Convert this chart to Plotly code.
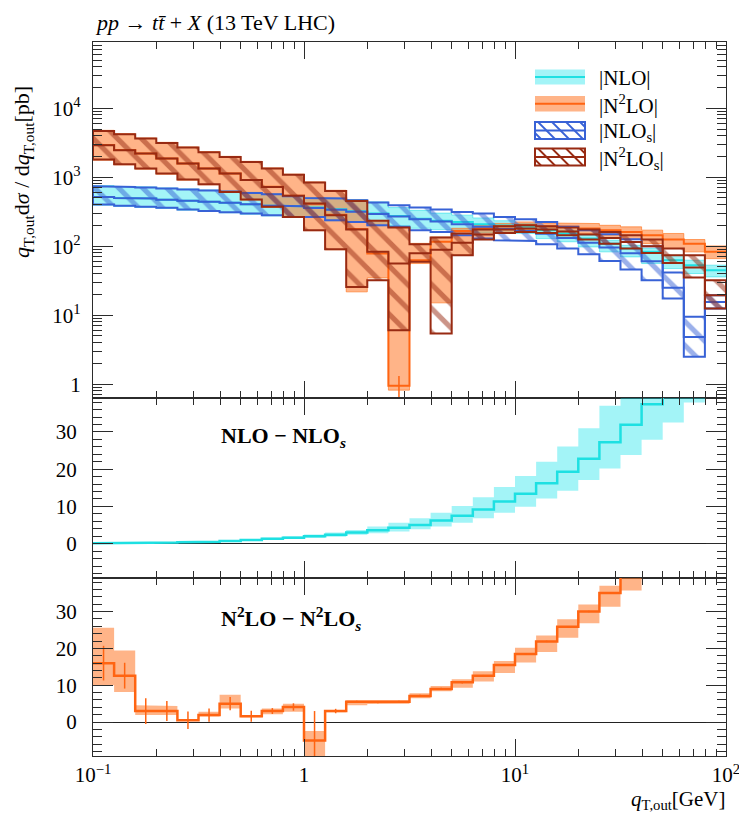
import numpy as np
import plotly.graph_objects as go
from plotly.subplots import make_subplots

# ---------------- data ----------------
edges = [0.1, 0.1259, 0.1585, 0.1995, 0.2512, 0.3162, 0.3981, 0.5012, 0.631, 0.7943,
         1.0, 1.259, 1.585, 1.995, 2.512, 3.162, 3.981, 5.012, 6.31, 7.943,
         10.0, 12.59, 15.85, 19.95, 25.12, 31.62, 39.81, 50.12, 63.1, 79.43, 100.0]

# |NLO| (pb)
nlo_c = [519, 501, 490, 473, 457, 442, 427, 407, 389, 380, 363, 343, 320, 299, 275,
         251, 234, 224, 209, 200, 191, 171, 153, 129, 109, 92.5, 82.8, 62.7, 53.1, 44.9]
nlo_hi = [756, 737, 722, 700, 677, 654, 633, 605, 579, 542, 511, 501, 474, 439, 363,
          331, 302, 282, 257, 234, 213, 191, 171, 144, 122, 103, 92.5, 74.1, 62.7, 53.1]
nlo_lo = [394, 377, 365, 353, 333, 319, 305, 291, 275, 261, 261, 233, 221, 197, 200,
          182, 174, 166, 158, 155, 153, 129, 116, 97.7, 82.8, 70.0, 56.1, 47.4, 40.2, 35.9]

# |N2LO| (pb)
n2lo_c = [2927, 2473, 2206, 1869, 1579, 1339, 1135, 914, 727, 541, 412, 285, 178, 78.3, 0.95,
          62.7, 116, 166, 182, 195, 201, 195, 191, 180, 171, 161, 144, 125, 109, 82.8]
n2lo_hi = [4782, 4282, 3704, 3204, 2746, 2347, 2007, 1700, 1364, 1108, 854, 647, 465, 237, 191,
           110, 136, 182, 200, 214, 225, 218, 218, 213, 201, 191, 171, 153, 125, 101]
n2lo_lo = [1767, 1511, 1310, 1107, 907, 776, 600, 466, 365, 261, 168, 88.8, 21.8, 34.7, 0.82,
           56.1, 15.1, 74.1, 126, 155, 174, 171, 161, 153, 140, 125, 109, 92.5, 82.8, 66.1]
n2lo_err = [0, 0, 0, 0, 0, 0, 0, 0, 0, 0, 0, 0, 0, 0, 0.37,
            0, 0, 0, 0, 0, 0, 0, 0, 0, 0, 0, 0, 0, 0, 0]

# |NLO_s| (pb)
nlos_c = [519, 501, 490, 473, 457, 442, 427, 407, 389, 380, 359, 339, 316, 292, 269,
          245, 229, 209, 191, 178, 166, 151, 132, 112, 95.5, 79.4, 60.3, 25.1, 4.85, 15.5]
nlos_hi = [741, 723, 708, 686, 664, 641, 621, 593, 568, 531, 501, 491, 465, 430, 393,
           364, 340, 314, 297, 266, 245, 225, 191, 171, 149, 126, 100, 41.7, 9.46, 19.5]
nlos_lo = [402, 385, 372, 360, 340, 325, 311, 297, 281, 266, 266, 238, 225, 201, 191,
           171, 161, 144, 129, 122, 119, 107, 92.5, 76.6, 61.2, 45.9, 32.1, 17.5, 2.49, 12.5]

# |N2LO_s| (pb)
n2los_c = [2911, 2460, 2203, 1866, 1578, 1337, 1130, 912, 724, 537, 417, 282, 174, 83.2, 56.2,
           79.4, 89.1, 112, 148, 174, 180, 174, 164, 148, 132, 115, 100, 74.1, 49.1, 19.5]
n2los_hi = [4688, 4198, 3631, 3141, 2692, 2301, 1968, 1667, 1337, 1086, 837, 634, 454, 233, 187,
            107, 134, 153, 174, 195, 201, 195, 187, 174, 161, 144, 125, 92.5, 74.1, 32.1]
n2los_lo = [1803, 1542, 1337, 1130, 925, 792, 612, 475, 372, 266, 171, 90.6, 25.7, 32.1, 6.07,
            59.3, 5.42, 74.1, 125, 156, 161, 156, 144, 125, 109, 92.5, 80.0, 57.3, 35.2, 12.5]

# NLO - NLO_s
d1_c = [0.15, 0.2, 0.25, 0.3, 0.4, 0.5, 0.7, 1.0, 1.3, 1.6, 2.0, 2.4, 3.0, 3.6, 4.3,
        5.0, 6.2, 7.5, 9.2, 11.3, 13.4, 16.2, 19.3, 22.8, 27.2, 31.9, 37.4, 44, 52, 60]
d1_lo = [0.12, 0.16, 0.2, 0.24, 0.32, 0.4, 0.55, 0.8, 1.05, 1.3, 1.6, 1.9, 2.4, 2.8, 3.3,
         3.9, 4.6, 5.6, 6.8, 8.3, 9.9, 12.1, 14.2, 17.1, 20.2, 23.8, 27.9, 32.5, 37.9, 44]
d1_hi = [0.19, 0.25, 0.31, 0.37, 0.5, 0.62, 0.88, 1.25, 1.6, 2.0, 2.5, 3.0, 3.7, 4.6, 5.6,
         6.8, 8.3, 10.1, 12.5, 15.2, 18.2, 22.0, 26.1, 31.0, 37.0, 44, 52, 60, 70, 80]

# N2LO - N2LO_s
d2_c = [16.0, 12.6, 3.0, 3.0, 0.5, 1.9, 5.0, 1.6, 3.0, 4.1, -5.0, 3.0, 5.5, 5.4, 5.5,
        7.1, 9.0, 10.8, 12.6, 15.5, 18.5, 21.9, 25.9, 30.0, 35.0, 41, 48, 56, 65, 75]
d2_lo = [10.0, 8.2, 1.9, 2.0, 0.3, 1.5, 3.7, 1.3, 2.1, 2.8, -9.5, 2.7, 4.6, 4.9, 5.0,
         6.5, 8.4, 9.3, 11.0, 13.3, 16.2, 19.0, 22.9, 26.8, 31.3, 35.7, 42, 49, 57, 66]
d2_hi = [25.6, 19.4, 4.6, 4.4, 0.7, 2.8, 7.4, 1.9, 3.7, 5.0, -2.4, 3.3, 5.9, 5.8, 5.9,
         7.8, 9.8, 11.6, 13.8, 16.6, 20.2, 23.5, 27.9, 31.9, 37.0, 45, 54, 63, 73, 84]
d2_err = [4.7, 3.5, 3.5, 2.7, 2.4, 1.8, 1.8, 1.5, 0.8, 1.0, 8.0, 0.6, 0.3, 0.3, 0.3,
          0.3, 0.3, 0.3, 0.2, 0.2, 0.2, 0.2, 0.2, 0.2, 0.2, 0.2, 0.2, 0.2, 0.2, 0.2]

# ---------------- styling ----------------
FONT = "Liberation Serif"
CYAN_F = "rgba(0,225,232,0.36)"
CYAN_L = "#1ee0e2"
ORNG_F = "rgba(255,118,38,0.55)"
ORNG_L = "#ff6412"
BLUE = "#3862d6"
DRED = "#982a12"
AX = "#2b2b2b"

# page offset: the html body adds an 8px margin, so the figure is sized/positioned to compensate
OFF = 8
W, H = 747 - OFF, 815 - OFF
L, R, T, B = 93 - OFF, 21, 42 - OFF, 59
PW, PH = W - L - R, H - T - B


def steps(vals):
    xs, ys = [], []
    for i, v in enumerate(vals):
        xs += [edges[i], edges[i + 1]]
        ys += [v, v]
    return xs, ys


def band(lo, hi):
    xu, yu = steps(hi)
    xl, yl = steps(lo)
    return xu + xl[::-1] + [xu[0]], yu + yl[::-1] + [yu[0]]


centers = [float(np.sqrt(edges[i] * edges[i + 1])) for i in range(len(edges) - 1)]

fig = make_subplots(rows=3, cols=1, shared_xaxes=True, vertical_spacing=0,
                    row_heights=[356 / 714, 180 / 714, 178 / 714])

# ---- upper panel ----
bx, by = band(nlo_lo, nlo_hi)
fig.add_trace(go.Scatter(x=bx, y=by, fill="toself", fillcolor=CYAN_F, mode="lines",
                         line=dict(color="rgba(0,215,225,0.45)", width=1)), 1, 1)
bx, by = band(n2lo_lo, n2lo_hi)
fig.add_trace(go.Scatter(x=bx, y=by, fill="toself", fillcolor=ORNG_F, mode="lines",
                         line=dict(color="rgba(255,110,20,0.6)", width=1)), 1, 1)
sx, sy = steps(nlo_c)
fig.add_trace(go.Scatter(x=sx, y=sy, mode="lines", line=dict(color=CYAN_L, width=2)), 1, 1)
sx, sy = steps(n2lo_c)
fig.add_trace(go.Scatter(x=sx, y=sy, mode="lines", line=dict(color=ORNG_L, width=2)), 1, 1)
fig.add_trace(go.Scatter(x=centers, y=n2lo_c, mode="markers", marker=dict(size=0.1, color=ORNG_L),
                         error_y=dict(type="data", array=n2lo_err, color=ORNG_L, thickness=1.5, width=0)), 1, 1)

for lo, hi, c, col in [(nlos_lo, nlos_hi, nlos_c, BLUE), (n2los_lo, n2los_hi, n2los_c, DRED)]:
    bx, by = band(lo, hi)
    fig.add_trace(go.Scatter(x=bx, y=by, fill="toself", fillcolor="rgba(0,0,0,0)", mode="lines",
                             line=dict(color=col, width=2),
                             fillpattern=dict(shape="\\", fgcolor=col, bgcolor="rgba(0,0,0,0)",
                                              size=17, solidity=0.3, fillmode="overlay")), 1, 1)
    sx, sy = steps(c)
    fig.add_trace(go.Scatter(x=sx, y=sy, mode="lines", line=dict(color=col, width=2)), 1, 1)

# ---- middle panel ----
bx, by = band(d1_lo, d1_hi)
fig.add_trace(go.Scatter(x=bx, y=by, fill="toself", fillcolor=CYAN_F, mode="lines",
                         line=dict(width=0)), 2, 1)
sx, sy = steps(d1_c)
fig.add_trace(go.Scatter(x=sx, y=sy, mode="lines", line=dict(color=CYAN_L, width=2.5)), 2, 1)

# ---- lower panel ----
bx, by = band(d2_lo, d2_hi)
fig.add_trace(go.Scatter(x=bx, y=by, fill="toself", fillcolor=ORNG_F, mode="lines",
                         line=dict(width=0)), 3, 1)
sx, sy = steps(d2_c)
fig.add_trace(go.Scatter(x=sx, y=sy, mode="lines", line=dict(color=ORNG_L, width=2.5)), 3, 1)
fig.add_trace(go.Scatter(x=centers, y=d2_c, mode="markers", marker=dict(size=0.1, color=ORNG_L),
                         error_y=dict(type="data", array=d2_err, color=ORNG_L, thickness=1.5, width=0)), 3, 1)

# ---------------- axes ----------------
tickfont = dict(family=FONT, size=21, color="black")
xminor = [0.2, 0.3, 0.4, 0.5, 0.6, 0.7, 0.8, 0.9, 2, 3, 4, 5, 6, 7, 8, 9,
          20, 30, 40, 50, 60, 70, 80, 90]
for r in (1, 2, 3):
    fig.update_xaxes(type="log", range=[-1, 2], showgrid=False, zeroline=False, automargin=False,
                     showline=True, linecolor=AX, linewidth=1.3, mirror="ticks",
                     ticks="inside", ticklen=17, tickwidth=1.1, tickcolor=AX,
                     tickmode="array", tickvals=[0.1, 1, 10, 100],
                     ticktext=["10<sup>−1</sup>", "1", "10<sup>1</sup>", "10<sup>2</sup>"],
                     minor=dict(tickmode="array", tickvals=xminor, ticks="inside", ticklen=7,
                                tickcolor=AX, tickwidth=1.1, showgrid=False),
                     showticklabels=(r == 3), tickfont=tickfont, ticklabelstandoff=0,
                     row=r, col=1)

yminor = [0.7, 0.8, 0.9] + [m * 10 ** k for k in range(0, 5) for m in range(2, 10)]
fig.update_yaxes(type="log", range=[-0.2, 4.96], showgrid=False, zeroline=False, automargin=False,
                 showline=True, linecolor=AX, linewidth=1.3, mirror="ticks",
                 ticks="inside", ticklen=20, tickwidth=1.1, tickcolor=AX,
                 tickmode="array", tickvals=[1, 10, 100, 1000, 10000],
                 ticktext=["1", "10<sup>1</sup>", "10<sup>2</sup>", "10<sup>3</sup>", "10<sup>4</sup>"],
                 minor=dict(tickmode="array", tickvals=yminor, ticks="inside", ticklen=9,
                            tickcolor=AX, tickwidth=1.1, showgrid=False),
                 tickfont=tickfont, ticklabelstandoff=7, row=1, col=1)
for r in (2, 3):
    fig.update_yaxes(range=[-9.2, 39.1], showgrid=False, zeroline=True, zerolinecolor="#222",
                     zerolinewidth=1.1, showline=True, linecolor=AX, linewidth=1.3, mirror="ticks",
                     ticks="inside", ticklen=20, tickwidth=1.1, tickcolor=AX, automargin=False,
                     tickmode="array", tickvals=[0, 10, 20, 30],
                     minor=dict(dtick=2, ticks="inside", ticklen=9, tickcolor=AX, tickwidth=1.1,
                                showgrid=False),
                     tickfont=tickfont, ticklabelstandoff=11, row=r, col=1)


# ---------------- annotations & legend ----------------
# page pixel -> paper coordinates
def px(x):
    return (x - OFF - L) / PW


def py(y):
    return (H - B - (y - OFF)) / PH


def note(text, x, y, xanchor="left", size=21, angle=0):
    return dict(text=text, x=x, y=y, xref="paper", yref="paper", xanchor=xanchor,
                yanchor="middle", showarrow=False, textangle=angle,
                font=dict(family=FONT, size=size, color="black"))


ann = []
ann.append(note("<i>pp</i> → <i>t</i><i>t̄</i> + <i>X</i> (13 TeV LHC)", px(93), py(22), size=22))
ann.append(note("<i>q</i><sub>T,out</sub>d<i>σ</i> / d<i>q</i><sub>T,out</sub>[pb]",
                px(23), py(172), xanchor="center", angle=-90, size=22))
ann.append(note("<i>q</i><sub>T,out</sub>[GeV]", px(727), py(800), xanchor="right", size=21))
ann.append(note("<b>NLO − NLO<sub><i>s</i></sub></b>", px(219), py(437), size=22))
ann.append(note("<b>N<sup>2</sup>LO − N<sup>2</sup>LO<sub><i>s</i></sub></b>", px(219), py(618), size=22))

leg_labels = ["|NLO|", "|N<sup>2</sup>LO|", "|NLO<sub>s</sub>|", "|N<sup>2</sup>LO<sub>s</sub>|"]
leg_y = [(69.5, 84.5), (96, 111.5), (122, 139), (148.5, 165.5)]
shapes = []
x0p, x1p = 535, 585
for i, (lab, (ya, yb)) in enumerate(zip(leg_labels, leg_y)):
    yc = (ya + yb) / 2
    ann.append(note(lab, px(597), py(yc + 1)))
    if i < 2:
        fc, lc = (CYAN_F, CYAN_L) if i == 0 else (ORNG_F, ORNG_L)
        shapes.append(dict(type="rect", xref="paper", yref="paper", x0=px(x0p), x1=px(x1p),
                           y0=py(yb), y1=py(ya), fillcolor=fc, line=dict(width=0)))
        shapes.append(dict(type="line", xref="paper", yref="paper", x0=px(x0p), x1=px(x1p),
                           y0=py(yc), y1=py(yc), line=dict(color=lc, width=2)))
    else:
        col = BLUE if i == 2 else DRED
        shapes.append(dict(type="rect", xref="paper", yref="paper", x0=px(x0p), x1=px(x1p),
                           y0=py(yb), y1=py(ya), fillcolor="rgba(0,0,0,0)",
                           line=dict(color=col, width=2)))
        shapes.append(dict(type="line", xref="paper", yref="paper", x0=px(x0p), x1=px(x1p),
                           y0=py(yc), y1=py(yc), line=dict(color=col, width=2)))
        h = yb - ya
        a = x0p - h + 6
        while a < x1p:
            xs, ys_ = a, ya
            xe, ye = a + h, yb
            if xs < x0p:
                ys_ = ya + (x0p - xs)
                xs = x0p
            if xe > x1p:
                ye = yb - (xe - x1p)
                xe = x1p
            if xe > xs:
                shapes.append(dict(type="line", xref="paper", yref="paper", x0=px(xs), x1=px(xe),
                                   y0=py(ys_), y1=py(ye), line=dict(color=col, width=1.8)))
            a += 14

fig.update_layout(width=W, height=H, margin=dict(l=L, r=R, t=T, b=B, autoexpand=False),
                  paper_bgcolor="white", plot_bgcolor="white", showlegend=False,
                  annotations=ann, shapes=shapes,
                  font=dict(family=FONT, size=21, color="black"))

fig.write_html("out.html")
